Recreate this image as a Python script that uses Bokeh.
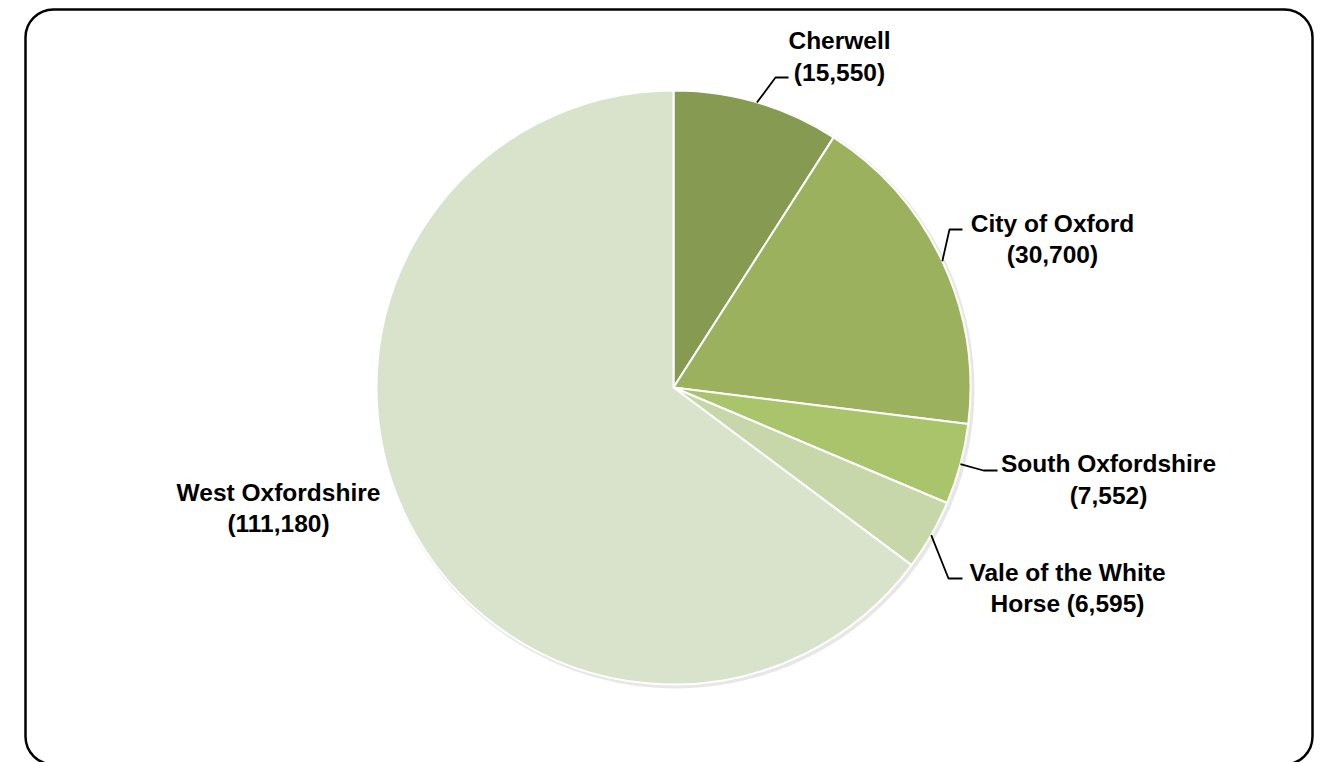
import math
from bokeh.plotting import figure
from bokeh.models import BoxAnnotation, ColumnDataSource
from bokeh.core.properties import value
from bokeh.embed import file_html
from bokeh.resources import INLINE

# ---- data ----
districts = ["Cherwell", "City of Oxford", "South Oxfordshire", "Vale of the White Horse", "West Oxfordshire"]
counts = [15550, 30700, 7552, 6595, 111180]
label_line1 = ["Cherwell", "City of Oxford", "South Oxfordshire", "Vale of the White", "West Oxfordshire"]
label_line2_prefix = ["", "", "", "Horse ", ""]
colors = ["#869a52", "#9bb15e", "#a9c46a", "#c8d7a9", "#d9e3cb"]

# ---- layout (pixel coordinates, y measured from top) ----
W, H = 1337, 762
CX, CY, R = 673, 387, 297
label_x = [839, 1052, 1108, 1067, 278]
label_y1 = [40, 223, 463, 572, 492]
label_y2 = [72, 254, 495, 603, 523]
elbow = [(775, 77), (949, 229), (983, 470), (948, 578), None]
line_end = [(788, 77), (962, 229), (997, 470), (962, 578), None]

def fy(py):
    return H - py

total = sum(counts)
starts, ends, mids = [], [], []
cum = 0.0
for c in counts:
    a0 = math.pi / 2 - cum / total * 2 * math.pi
    cum += c
    a1 = math.pi / 2 - cum / total * 2 * math.pi
    starts.append(a0)
    ends.append(a1)
    mids.append((a0 + a1) / 2)

p = figure(width=W, height=H, x_range=(0, W), y_range=(0, H),
           output_backend="svg", toolbar_location=None, min_border=0)
p.axis.visible = False
p.grid.visible = False
p.outline_line_color = None
p.background_fill_color = "white"

# frame
p.add_layout(BoxAnnotation(left=25, right=1312, top=fy(9), bottom=fy(764),
                           fill_alpha=0, line_color="black", line_alpha=1.0,
                           line_width=2.5, border_radius=28))

# soft shadow
p.circle(x=[CX + 2], y=[fy(CY) - 2], radius=R + 2, fill_color="#bbbbbb",
         fill_alpha=0.35, line_color=None)

src = ColumnDataSource(dict(start=starts, end=ends, color=colors, name=districts, count=counts))
p.wedge(x=CX, y=fy(CY), radius=R, start_angle="start", end_angle="end",
        direction="clock", fill_color="color", line_color="white", line_width=2,
        source=src)

# leader lines
for i in range(len(counts)):
    if elbow[i] is None:
        continue
    sx = CX + R * math.cos(mids[i])
    sy = fy(CY) + R * math.sin(mids[i])
    xs = [sx, elbow[i][0], line_end[i][0]]
    ys = [sy, fy(elbow[i][1]), fy(line_end[i][1])]
    p.line(xs, ys, line_color="black", line_width=1.8)

line2 = [pre + "({:,})".format(c) for pre, c in zip(label_line2_prefix, counts)]
font = value("Liberation Sans")
p.text(x=label_x, y=[fy(v) for v in label_y1], text=label_line1,
       text_font=font, text_font_style="bold", text_font_size="24.5px",
       text_align="center", text_baseline="middle", text_color="black")
p.text(x=label_x, y=[fy(v) for v in label_y2], text=line2,
       text_font=font, text_font_style="bold", text_font_size="24.5px",
       text_align="center", text_baseline="middle", text_color="black")

open("out.html", "w").write(file_html(p, INLINE))
